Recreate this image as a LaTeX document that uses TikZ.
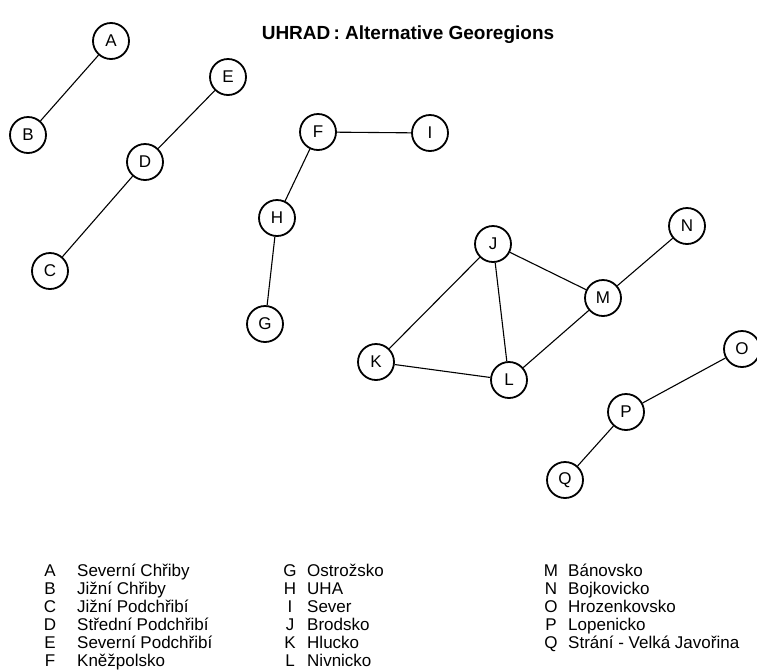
\documentclass[tikz,border=0pt]{standalone}
\usepackage{fontspec}
\setmainfont{Liberation Sans}
\usetikzlibrary{positioning}

\begin{document}
\begin{tikzpicture}[x=1pt,y=-1pt,
	every node/.style={font=\fontsize{17}{19}\selectfont},
	region/.style={circle,draw,line width=1.8pt,minimum size=36pt,inner sep=0pt},
	link/.style={line width=1.1pt},
	key/.style={anchor=base,inner sep=0pt},
	entry/.style={anchor=base west,inner sep=0pt}]
	\useasboundingbox (0,0) rectangle (757,670);
	\node[font=\fontsize{19}{21}\selectfont\bfseries] (title) at (408,35) {UHRAD\,: Alternative Georegions};
	\node[region] (A) at (111,41) {A};
	\node[region] (B) at (28,135) {B};
	\node[region] (C) at (50,271) {C};
	\node[region] (D) at (145,162) {D};
	\node[region] (E) at (228,77) {E};
	\node[region] (F) at (318,132) {F};
	\node[region] (G) at (265,324) {G};
	\node[region] (H) at (277,218) {H};
	\node[region] (I) at (430,133) {I};
	\node[region] (J) at (493,244) {J};
	\node[region] (K) at (376,362) {K};
	\node[region] (L) at (509,380) {L};
	\node[region] (M) at (603,298) {M};
	\node[region] (N) at (687,226) {N};
	\node[region] (O) at (742,349) {O};
	\node[region] (P) at (626,412) {P};
	\node[region] (Q) at (565,480) {Q};
	\foreach \a/\b in {A/B,E/D,D/C,F/I,F/H,H/G,J/K,J/L,J/M,K/L,L/M,M/N,O/P,P/Q}
	{\draw[link] (\a)--(\b);}
	\foreach \l/\t [count=\i from 0] in {A/Severní Chřiby,B/Jižní Chřiby,C/Jižní Podchřibí,
		D/Střední Podchřibí,E/Severní Podchřibí,F/Kněžpolsko}
	{\node[key] (keyl\l) at (50,576+18*\i) {\l};
	 \node[entry] (name\l) at (77,576+18*\i) {\t};}
	\foreach \l/\t [count=\i from 0] in {G/Ostrožsko,H/UHA,I/Sever,J/Brodsko,K/Hlucko,L/Nivnicko}
	{\node[key] (keyl\l) at (290,576+18*\i) {\l};
	 \node[entry] (name\l) at (307,576+18*\i) {\t};}
	\foreach \l/\t [count=\i from 0] in {M/Bánovsko,N/Bojkovicko,O/Hrozenkovsko,P/Lopenicko,
		Q/Strání - Velká Javořina}
	{\node[key] (keyl\l) at (551,576+18*\i) {\l};
	 \node[entry] (name\l) at (568,576+18*\i) {\t};}
\end{tikzpicture}
\end{document}
